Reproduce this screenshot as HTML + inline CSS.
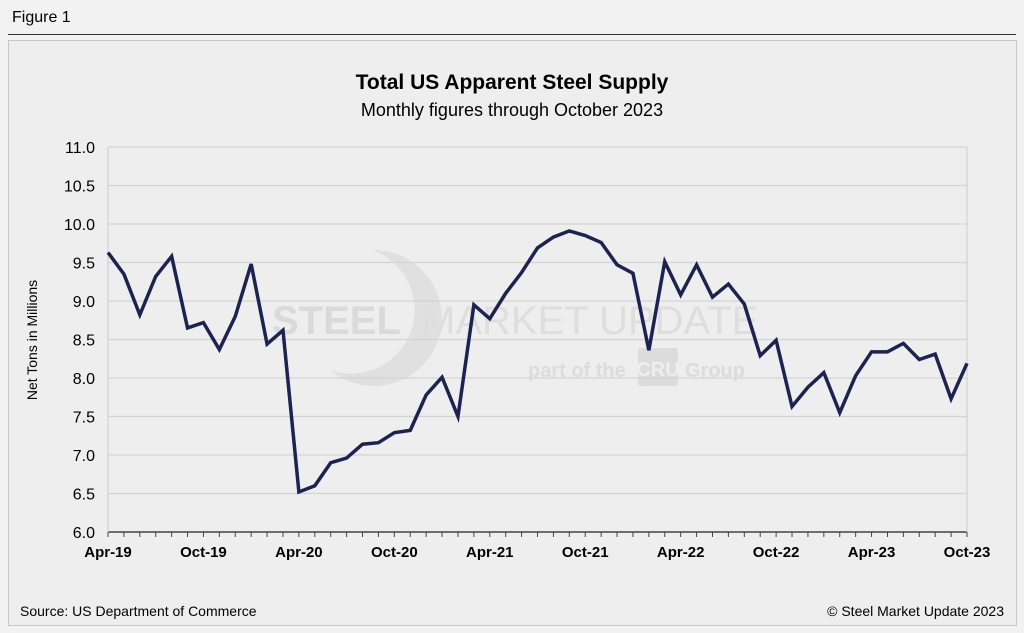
<!DOCTYPE html>
<html><head><meta charset="utf-8"><style>
body{margin:0;width:1024px;height:633px;background:#f2f2f2;font-family:"Liberation Sans",Arial,sans-serif;overflow:hidden;position:relative}
#fig{position:absolute;left:12px;top:9px;font-size:16px;color:#000}
#rule{position:absolute;left:8px;top:34px;width:1008px;height:1px;background:#333}
#panel{position:absolute;left:8px;top:40px;width:1007px;height:584px;background:#eeeeee;border:1px solid #c8c8c8}
</style></head><body>
<div id="fig">Figure 1</div>
<div id="rule"></div>
<div id="panel"></div>
<svg id="chart" width="1024" height="633" style="position:absolute;left:0;top:0" font-family="Liberation Sans, Arial, sans-serif">
<text x="512" y="89" text-anchor="middle" font-size="21" font-weight="bold">Total US Apparent Steel Supply</text>
<text x="512" y="116" text-anchor="middle" font-size="18">Monthly figures through October 2023</text>
<g fill="#dcdcdc">
<path d="M 372 250 A 68 68 0 1 1 330 370 A 58 58 0 1 0 372 250 Z" fill="#e0e0e0"/>
<text x="272" y="334" font-size="40" font-weight="bold" fill="#dadada">STEEL</text>
<text x="422" y="334" font-size="40" fill="#dedede">MARKET UPDATE</text>
<text x="528" y="377" font-size="20" font-weight="bold">part of the</text>
<rect x="638" y="348" width="40" height="38" rx="3" fill="#dcdcdc"/>
<text x="658" y="376" font-size="20" text-anchor="middle" fill="#eee" font-weight="bold">CRU</text>
<text x="685" y="377" font-size="20" font-weight="bold">Group</text>
</g>
<g id="grid"></g><g id="axes"></g><g id="series"></g>
<text transform="translate(37,340) rotate(-90)" text-anchor="middle" font-size="14">Net Tons in Millions</text>
<text x="20" y="616" font-size="14">Source: US Department of Commerce</text>
<text x="1004" y="616" font-size="14" text-anchor="end">© Steel Market Update 2023</text>
</svg>
<script>
const values=[9.63,9.35,8.82,9.32,9.58,8.65,8.72,8.37,8.8,9.48,8.44,8.62,6.52,6.6,6.9,6.96,7.14,7.16,7.29,7.32,7.78,8.01,7.5,8.95,8.77,9.1,9.37,9.69,9.83,9.91,9.85,9.76,9.47,9.36,8.36,9.51,9.08,9.47,9.05,9.22,8.96,8.29,8.49,7.63,7.88,8.07,7.55,8.03,8.34,8.34,8.45,8.24,8.31,7.73,8.19];
const yTicks=[6.0,6.5,7.0,7.5,8.0,8.5,9.0,9.5,10.0,10.5,11.0];
const xLabels=["Apr-19","Oct-19","Apr-20","Oct-20","Apr-21","Oct-21","Apr-22","Oct-22","Apr-23","Oct-23"];
const X0=108,X1=967,Y0=532,Y1=147,ymin=6,ymax=11;
const n=values.length;
const xs=i=>X0+(X1-X0)*i/(n-1);
const ys=v=>Y0-(v-ymin)/(ymax-ymin)*(Y0-Y1);
const NS="http://www.w3.org/2000/svg";
function mk(tag,attrs,parent){const e=document.createElementNS(NS,tag);for(const k in attrs)e.setAttribute(k,attrs[k]);parent.appendChild(e);return e;}
const grid=document.getElementById('grid'),axes=document.getElementById('axes'),series=document.getElementById('series');
yTicks.forEach(t=>{
 const y=ys(t);
 const l=mk('line',{x1:X0,x2:X1,y1:y,y2:y,stroke:t===ymin?'#444':'#d4d4d4','stroke-width':t===ymin?1.5:1.3},grid);
 
 
 const tx=mk('text',{x:X0-13,y:y+6,'text-anchor':'end','font-size':16},axes);
 tx.textContent=t.toFixed(1);
 
 
});
const rb=mk('line',{x1:X1,x2:X1,y1:Y1,y2:Y0,stroke:'#d4d4d4','stroke-width':1.3},grid);


const ya=mk('line',{x1:X0,x2:X0,y1:Y1,y2:Y0,stroke:'#d4d4d4','stroke-width':1.3},grid);


for(let i=0;i<n;i++){
 const tk=mk('line',{x1:xs(i),x2:xs(i),y1:Y0,y2:Y0+5,stroke:'#444','stroke-width':1},axes);
 
 
}
xLabels.forEach((lab,k)=>{
 const t=mk('text',{x:xs(k*6),y:Y0+25,'text-anchor':'middle','font-size':15,'font-weight':'bold'},axes);
 t.textContent=lab;
 
 
});
const p=mk('polyline',{points:values.map((v,i)=>xs(i)+','+ys(v)).join(' '),fill:'none',stroke:'#1c2350','stroke-width':3.5,'stroke-linejoin':'miter'},series);


</script>
</body></html>
